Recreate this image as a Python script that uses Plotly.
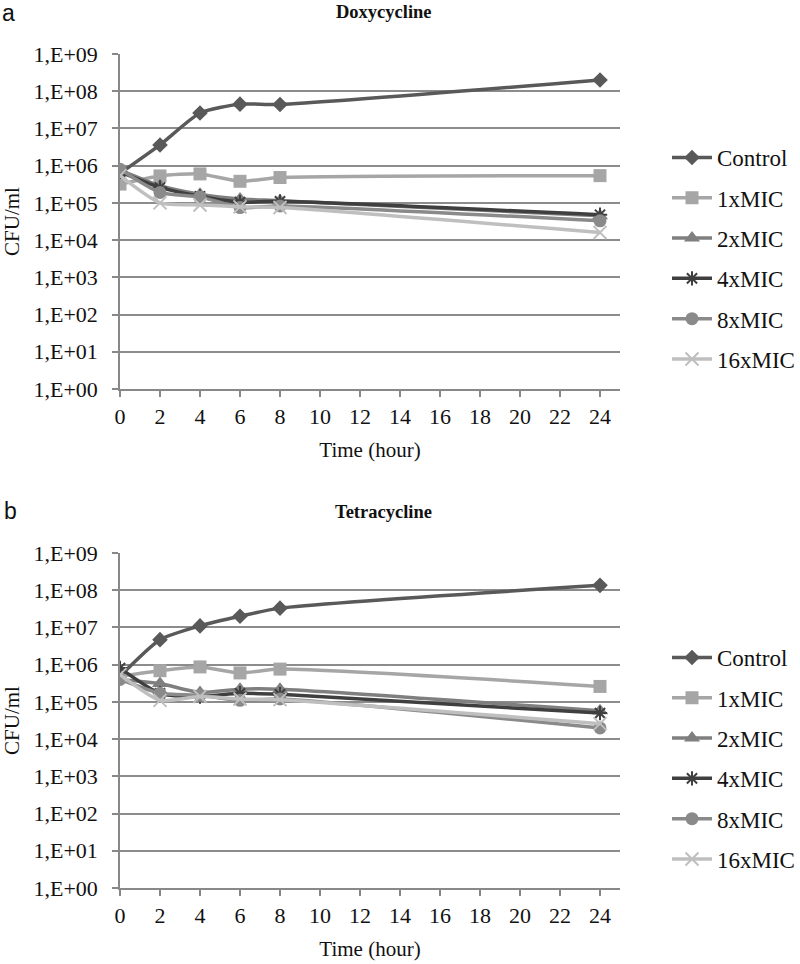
import plotly.graph_objects as go

hours = [0, 2, 4, 6, 8, 24]
series_names = ["Control", "1xMIC", "2xMIC", "4xMIC", "8xMIC", "16xMIC"]

# Doxycycline (panel a) CFU/ml
doxy_control = [6.2e5, 3.6e6, 2.6e7, 4.5e7, 4.4e7, 2.0e8]
doxy_1x = [3.2e5, 5.3e5, 6.0e5, 3.8e5, 4.8e5, 5.4e5]
doxy_2x = [7.6e5, 2.9e5, 1.7e5, 1.27e5, 1.15e5, 4.5e4]
doxy_4x = [6.8e5, 2.6e5, 1.5e5, 1.05e5, 1.1e5, 4.8e4]
doxy_8x = [8.0e5, 1.9e5, 1.45e5, 7.5e4, 8.3e4, 3.3e4]
doxy_16x = [5.4e5, 1.0e5, 8.8e4, 7.8e4, 7.5e4, 1.6e4]

# Tetracycline (panel b) CFU/ml
tetra_control = [4.9e5, 4.7e6, 1.1e7, 2.0e7, 3.3e7, 1.35e8]
tetra_1x = [4.9e5, 6.9e5, 8.7e5, 6.0e5, 7.6e5, 2.6e5]
tetra_2x = [4.0e5, 3.1e5, 1.8e5, 2.2e5, 2.2e5, 5.8e4]
tetra_4x = [8.1e5, 1.7e5, 1.4e5, 1.7e5, 1.6e5, 5.0e4]
tetra_8x = [4.0e5, 1.7e5, 1.5e5, 1.1e5, 1.2e5, 2.0e4]
tetra_16x = [5.4e5, 1.1e5, 1.4e5, 1.2e5, 1.15e5, 2.6e4]

x_ticks = list(range(0, 25, 2))
y_tickvals = [10 ** k for k in range(0, 10)]
y_ticktext = ["1,E+%02d" % k for k in range(0, 10)]

colors = ["#595959", "#a6a6a6", "#7f7f7f", "#3f3f3f", "#8a8a8a", "#bfbfbf"]
symbols = ["diamond", "square", "triangle-up", "asterisk-open", "circle", "x-thin-open"]
msizes = [12, 13, 14, 12, 13, 13]

doxy = [doxy_control, doxy_1x, doxy_2x, doxy_4x, doxy_8x, doxy_16x]
tetra = [tetra_control, tetra_1x, tetra_2x, tetra_4x, tetra_8x, tetra_16x]

SERIF = "Liberation Serif, Times New Roman, serif"
W, H = 800, 964

fig = go.Figure()

for panel, (data, xa, ya, leg) in enumerate([(doxy, "x", "y", "legend"), (tetra, "x2", "y2", "legend2")]):
    for i, name in enumerate(series_names):
        line_marker = symbols[i] in ("asterisk-open", "x-thin-open")
        fig.add_trace(go.Scatter(
            x=hours, y=data[i], name=name, mode="lines+markers",
            xaxis=xa, yaxis=ya, legend=leg, legendgroup=f"{panel}-{i}",
            line=dict(color=colors[i], width=3.5, shape="spline", smoothing=0.6),
            marker=dict(symbol=symbols[i], size=msizes[i], color=colors[i],
                        line=dict(color=colors[i], width=2 if line_marker else 0)),
        ))

axis_common = dict(showline=True, linecolor="#888888", linewidth=1.5,
                   ticks="outside", ticklen=6, tickcolor="#888888", tickwidth=1.5,
                   tickfont=dict(family=SERIF, size=22, color="#111111"),
                   zeroline=False, automargin=False)

xtitle = dict(text="Time (hour)", font=dict(family=SERIF, size=21, color="#111111"), standoff=14)
ytitle = dict(text="CFU/ml", font=dict(family=SERIF, size=21, color="#111111"), standoff=14)

xdom = [120 / W, 620 / W]
fig.update_layout(
    width=W, height=H, margin=dict(l=0, r=0, t=0, b=0, autoexpand=False),
    paper_bgcolor="white", plot_bgcolor="white",
    font=dict(family=SERIF, size=18, color="#111111"),
    xaxis=dict(domain=xdom, anchor="y", range=[0, 25], tickvals=x_ticks,
               showgrid=False, ticklabelstandoff=1, title=xtitle, **axis_common),
    yaxis=dict(domain=[1 - 389 / H, 1 - 54 / H], anchor="x", type="log", range=[0, 9],
               tickvals=y_tickvals, ticktext=y_ticktext, showgrid=True, gridcolor="#8c8c8c", gridwidth=1.5,
               ticklabelstandoff=10, title=ytitle, **axis_common),
    xaxis2=dict(domain=xdom, anchor="y2", range=[0, 25], tickvals=x_ticks,
                showgrid=False, ticklabelstandoff=1, title=xtitle, **axis_common),
    yaxis2=dict(domain=[1 - 888 / H, 1 - 553 / H], anchor="x2", type="log", range=[0, 9],
                tickvals=y_tickvals, ticktext=y_ticktext, showgrid=True, gridcolor="#8c8c8c", gridwidth=1.5,
                ticklabelstandoff=10, title=ytitle, **axis_common),
    legend=dict(x=1.0, y=1 - 136 / H, xanchor="right", yanchor="top", tracegroupgap=7.4, itemwidth=40,
                font=dict(family=SERIF, size=23, color="#111111"), bgcolor="rgba(0,0,0,0)"),
    legend2=dict(x=1.0, y=1 - 636 / H, xanchor="right", yanchor="top", tracegroupgap=7.4, itemwidth=40,
                 font=dict(family=SERIF, size=23, color="#111111"), bgcolor="rgba(0,0,0,0)"),
    annotations=[
        dict(text="<b>Doxycycline</b>", x=383.5 / W, y=1 - 12 / H, xref="paper", yref="paper",
             showarrow=False, font=dict(family=SERIF, size=18.5, color="#111111"), yanchor="middle"),
        dict(text="<b>Tetracycline</b>", x=383.5 / W, y=1 - 512 / H, xref="paper", yref="paper",
             showarrow=False, font=dict(family=SERIF, size=18.5, color="#111111"), yanchor="middle"),
        dict(text="a", x=0.0, y=1 - 13 / H, xref="paper", yref="paper", xanchor="left",
             showarrow=False, font=dict(family="Liberation Sans, Arial", size=23, color="#111111"), yanchor="middle"),
        dict(text="b", x=2 / W, y=1 - 511 / H, xref="paper", yref="paper", xanchor="left",
             showarrow=False, font=dict(family="Liberation Sans, Arial", size=23, color="#111111"), yanchor="middle"),
    ],
)

fig.write_html("out.html", config={"displayModeBar": False},
               post_script="document.body.style.margin='0px';")
